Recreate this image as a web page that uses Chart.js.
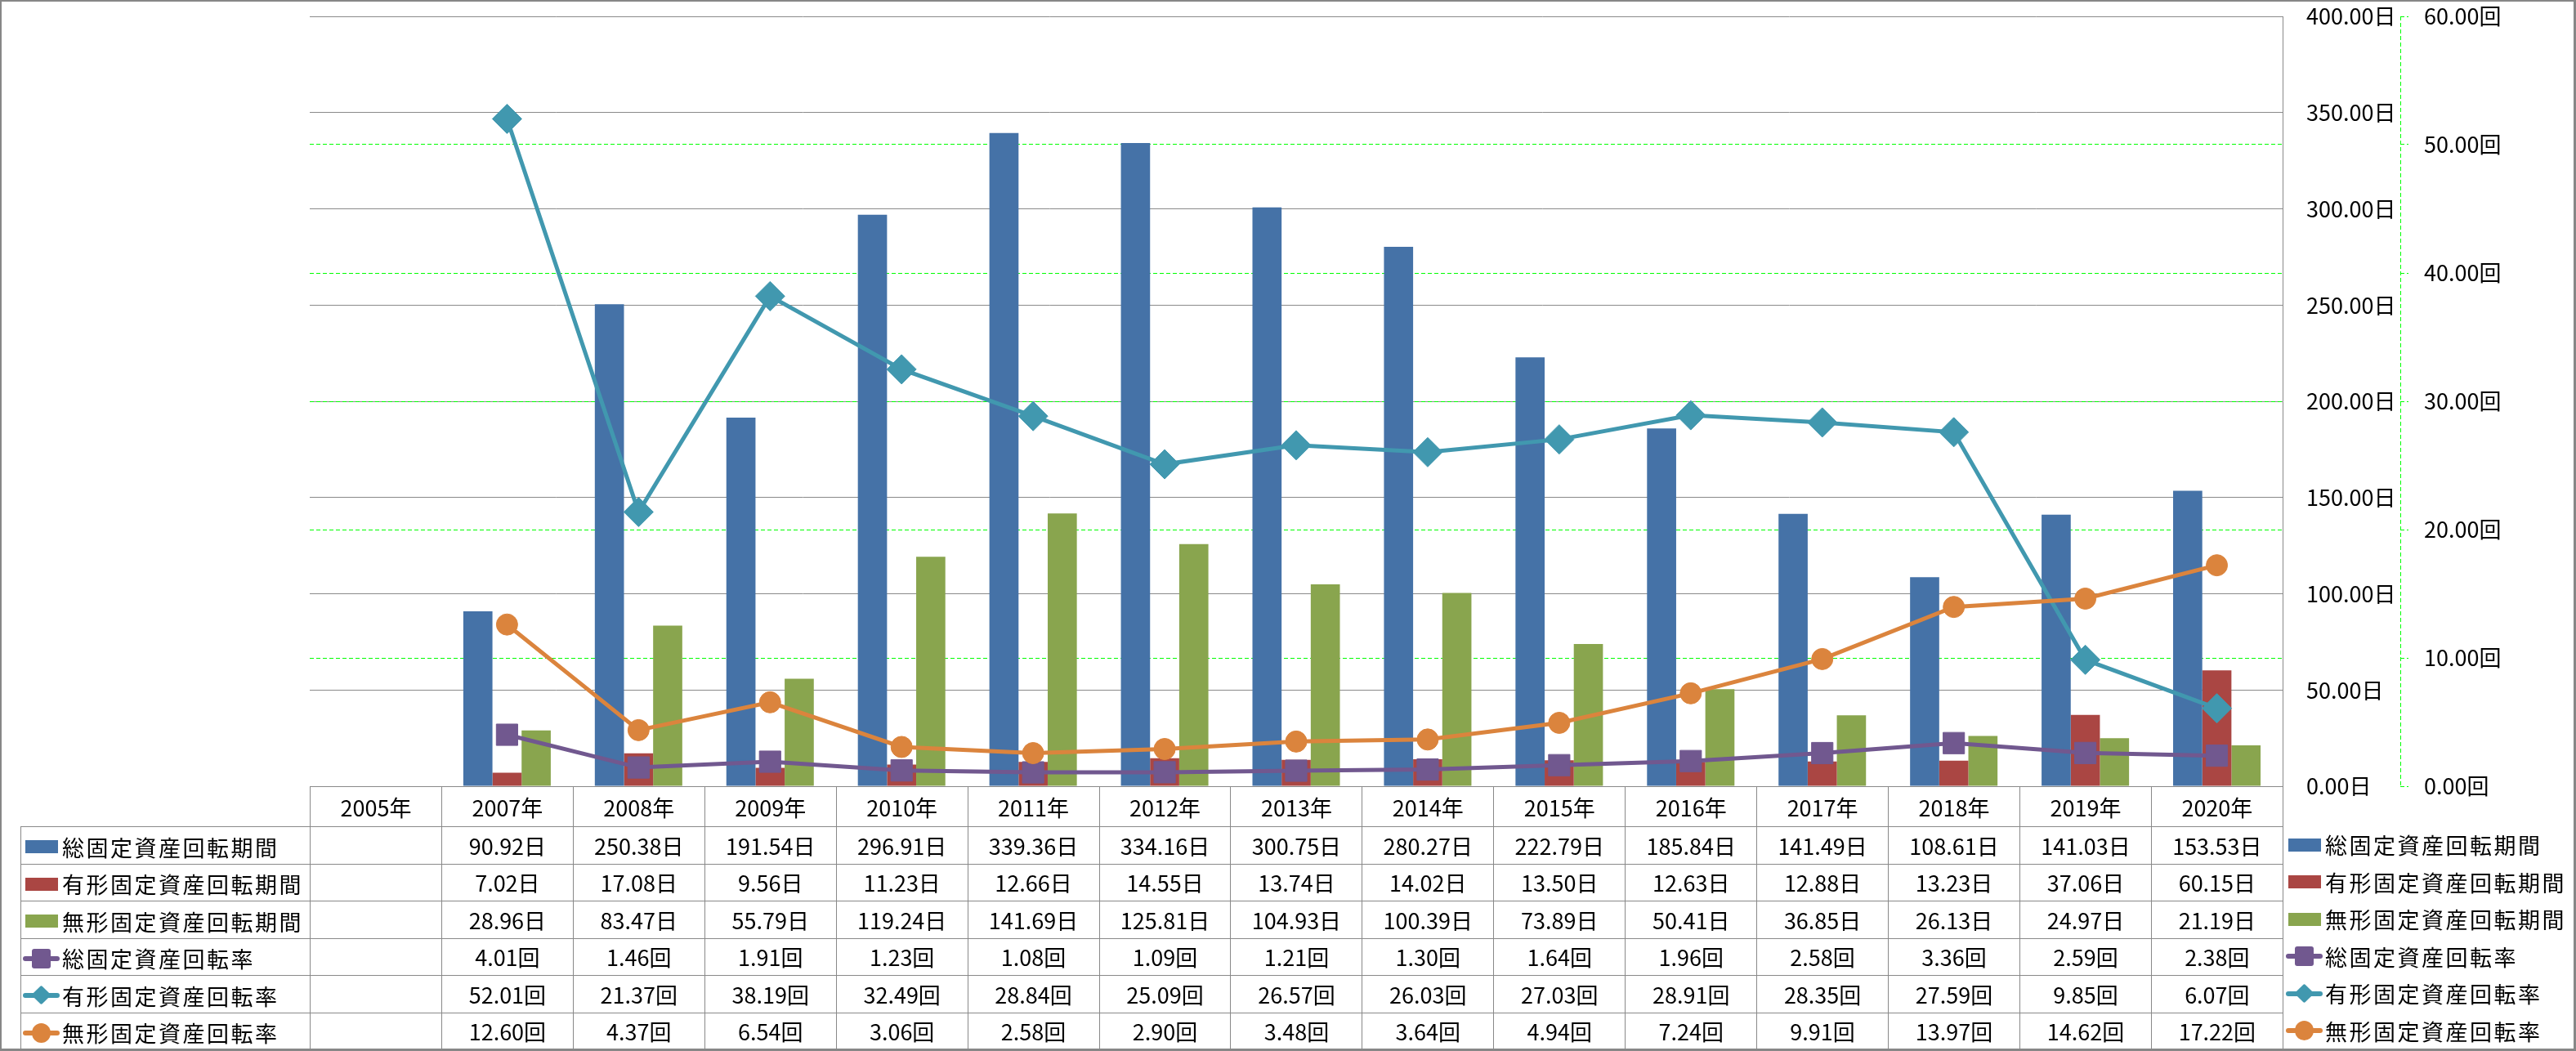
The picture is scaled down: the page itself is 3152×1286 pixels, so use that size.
<!DOCTYPE html>
<html lang="ja">
<head>
<meta charset="utf-8">
<title>固定資産回転期間・回転率</title>
<script src="https://cdn.jsdelivr.net/npm/chart.js@4.4.1/dist/chart.umd.min.js"></script>
<style>
  html, body { margin: 0; padding: 0; background: #fff; }
  #frame { position: relative; width: 3152px; height: 1286px; overflow: hidden;
           font-family: 'Noto Sans CJK JP', sans-serif; color: #000; }
  #frameBorder { position: absolute; left: 0; top: 0; right: 0; bottom: 0; z-index: 5;
                 border: solid #878787; border-width: 2px 3px 3px 2px; pointer-events: none; }
  #chart { position: absolute; left: 0; top: 0; }
  #dataTable { position: absolute; border-collapse: collapse; table-layout: fixed; font-size: 27px; }
  #dataTable td { border: 1px solid #898989; text-align: center; padding: 0; white-space: nowrap; line-height: 1; }
  #dataTable td.blank { border: none; }
  #dataTable td.name { text-align: left; padding-left: 2px; }
  #legend { position: absolute; font-size: 27px; }
  #legend .row { display: flex; align-items: center; white-space: nowrap; }
  .key { display: inline-block; vertical-align: middle; position: relative; width: 45px; height: 26px; margin-right: 3px; }
  .key .bar { position: absolute; left: 3px; top: 5px; width: 40px; height: 16px; }
  .key .ln { position: absolute; left: 0; right: 0; top: 10px; height: 6px; border-radius: 3px; }
  .key .mk { position: absolute; left: 11px; top: 1px; width: 23px; height: 24px; }
  .key .mk.rect { border-radius: 3px; }
  .key .mk.circle { border-radius: 50%; }
  .key .mk.rectRot { left: 14px; top: 4px; width: 17px; height: 17px; border-radius: 2px; transform: rotate(45deg); }
  .label { vertical-align: middle; letter-spacing: 2.5px; }
</style>
</head>
<body>
<div id="frame">
  <canvas id="chart" width="3152" height="1286"></canvas>
  <div id="frameBorder"></div>
</div>
<script>
// categories (2006 is missing in the source)
const years = ['2005年', '2007年', '2008年', '2009年', '2010年', '2011年', '2012年', '2013年',
  '2014年', '2015年', '2016年', '2017年', '2018年', '2019年', '2020年'];

// 回転期間 (days, bars)
const totalPeriod = [null, 90.92, 250.38, 191.54, 296.91, 339.36, 334.16, 300.75, 280.27, 222.79, 185.84, 141.49, 108.61, 141.03, 153.53];
const tangiblePeriod = [null, 7.02, 17.08, 9.56, 11.23, 12.66, 14.55, 13.74, 14.02, 13.50, 12.63, 12.88, 13.23, 37.06, 60.15];
const intangiblePeriod = [null, 28.96, 83.47, 55.79, 119.24, 141.69, 125.81, 104.93, 100.39, 73.89, 50.41, 36.85, 26.13, 24.97, 21.19];

// 回転率 (times, lines)
const totalTurnover = [null, 4.01, 1.46, 1.91, 1.23, 1.08, 1.09, 1.21, 1.30, 1.64, 1.96, 2.58, 3.36, 2.59, 2.38];
const tangibleTurnover = [null, 52.01, 21.37, 38.19, 32.49, 28.84, 25.09, 26.57, 26.03, 27.03, 28.91, 28.35, 27.59, 9.85, 6.07];
const intangibleTurnover = [null, 12.60, 4.37, 6.54, 3.06, 2.58, 2.90, 3.48, 3.64, 4.94, 7.24, 9.91, 13.97, 14.62, 17.22];

// axis ticks
const dayTicks = { min: 0, max: 400, step: 50 };
const timeTicks = { min: 0, max: 60, step: 10 };

const FONT = "'Noto Sans CJK JP', sans-serif";
const GRID_GRAY = '#8a8a8a';
const GRID_GREEN = '#00ff00';

const series = [
  { name: '総固定資産回転期間', data: totalPeriod, unit: '日', kind: 'bar', color: '#4572A7' },
  { name: '有形固定資産回転期間', data: tangiblePeriod, unit: '日', kind: 'bar', color: '#AA4643' },
  { name: '無形固定資産回転期間', data: intangiblePeriod, unit: '日', kind: 'bar', color: '#89A54E' },
  { name: '総固定資産回転率', data: totalTurnover, unit: '回', kind: 'line', color: '#71588F', marker: 'rect', radius: 18.5, order: 3 },
  { name: '有形固定資産回転率', data: tangibleTurnover, unit: '回', kind: 'line', color: '#4198AF', marker: 'rectRot', radius: 18, order: 2 },
  { name: '無形固定資産回転率', data: intangibleTurnover, unit: '回', kind: 'line', color: '#DB843D', marker: 'circle', radius: 13, order: 1 },
];

// green dashed line for the secondary axis
const dashedAxisLine = {
  id: 'dashedAxisLine',
  afterDraw(chart) {
    const s = chart.scales.y1;
    const ctx = chart.ctx;
    ctx.save();
    ctx.strokeStyle = GRID_GREEN;
    ctx.lineWidth = 1;
    ctx.setLineDash([5, 3]);
    ctx.beginPath();
    ctx.moveTo(Math.round(s.left) + 0.5, s.top);
    ctx.lineTo(Math.round(s.left) + 0.5, s.bottom);
    ctx.stroke();
    ctx.restore();
  },
};

// fixed axis width; keep the tick padding from pushing the plot down
function fixAxis(width) {
  return (scale) => {
    scale.width = width;
    scale.paddingTop = 16;
    scale.paddingBottom = 16;
  };
}

const datasets = series.map((s) => {
  if (s.kind === 'bar') {
    return {
      type: 'bar',
      label: s.name,
      data: s.data,
      backgroundColor: s.color,
      yAxisID: 'y',
      order: 10,
      categoryPercentage: 0.665,
      barPercentage: 1.0,
    };
  }
  return {
    type: 'line',
    label: s.name,
    data: s.data,
    borderColor: s.color,
    backgroundColor: s.color,
    borderWidth: 5,
    pointStyle: s.marker,
    pointRadius: s.radius,
    pointBackgroundColor: s.color,
    pointBorderColor: s.color,
    pointBorderWidth: 1,
    tension: 0,
    yAxisID: 'y1',
    order: s.order,
  };
});

const chart = new Chart(document.getElementById('chart'), {
  type: 'bar',
  data: { labels: years, datasets },
  plugins: [dashedAxisLine],
  options: {
    responsive: false,
    animation: false,
    layout: { padding: { left: 379, top: 20, right: 15, bottom: 324 } },
    plugins: { legend: { display: false }, tooltip: { enabled: false } },
    scales: {
      x: { display: false, offset: true },
      y: {
        position: 'right',
        min: dayTicks.min,
        max: dayTicks.max,
        afterFit: fixAxis(144),
        ticks: {
          stepSize: dayTicks.step,
          padding: 29,
          color: '#000',
          font: { family: FONT, size: 27 },
          callback: (v) => Number(v).toFixed(2) + '日',
        },
        grid: { color: GRID_GRAY, lineWidth: 1, drawTicks: false },
        border: { display: true, color: GRID_GRAY, width: 1 },
      },
      y1: {
        position: 'right',
        min: timeTicks.min,
        max: timeTicks.max,
        afterFit: fixAxis(200),
        ticks: {
          stepSize: timeTicks.step,
          padding: 19,
          color: '#000',
          font: { family: FONT, size: 27 },
          callback: (v) => Number(v).toFixed(2) + '回',
        },
        grid: {
          color: (ctx) => (ctx.tick && (ctx.tick.value === timeTicks.min || ctx.tick.value === timeTicks.max))
            ? 'rgba(0,0,0,0)' : GRID_GREEN,
          lineWidth: 1,
          drawTicks: true,
          tickLength: 10,
          tickColor: GRID_GREEN,
          tickBorderDash: [5, 3],
        },
        border: { display: false, dash: [5, 3] },
      },
    },
  },
});

// data table + legend under the plot, columns taken from the x scale
function keyHtml(s) {
  if (s.kind === 'bar') {
    return `<span class="key"><span class="bar" style="background:${s.color}"></span></span>`;
  }
  return `<span class="key"><span class="ln" style="background:${s.color}"></span>` +
    `<span class="mk ${s.marker}" style="background:${s.color}"></span></span>`;
}

function buildTable() {
  const area = chart.chartArea;
  const x = chart.scales.x;
  const colW = x.getPixelForValue(1) - x.getPixelForValue(0);
  const nameW = 354;
  const headH = 49;
  const rowH = 45.5;

  const table = document.createElement('table');
  table.id = 'dataTable';
  table.style.left = (area.left - nameW) + 'px';
  table.style.top = area.bottom + 'px';
  table.style.width = (nameW + colW * years.length) + 'px';

  let html = `<colgroup><col style="width:${nameW}px">`;
  years.forEach(() => { html += `<col style="width:${colW}px">`; });
  html += '</colgroup>';
  html += `<tr style="height:${headH}px"><td class="blank"></td>`;
  years.forEach((y) => { html += `<td>${y}</td>`; });
  html += '</tr>';
  series.forEach((s) => {
    html += `<tr style="height:${rowH}px"><td class="name">${keyHtml(s)}<span class="label">${s.name}</span></td>`;
    s.data.forEach((v) => { html += `<td>${v == null ? '' : v.toFixed(2) + s.unit}</td>`; });
    html += '</tr>';
  });
  table.innerHTML = html;
  document.getElementById('frame').appendChild(table);

  const legend = document.createElement('div');
  legend.id = 'legend';
  legend.style.left = (area.right + 4) + 'px';
  legend.style.top = (area.bottom + headH) + 'px';
  legend.innerHTML = series.map((s) =>
    `<div class="row" style="height:${rowH}px">${keyHtml(s)}<span class="label">${s.name}</span></div>`).join('');
  document.getElementById('frame').appendChild(legend);
}

buildTable();
</script>
</body>
</html>
